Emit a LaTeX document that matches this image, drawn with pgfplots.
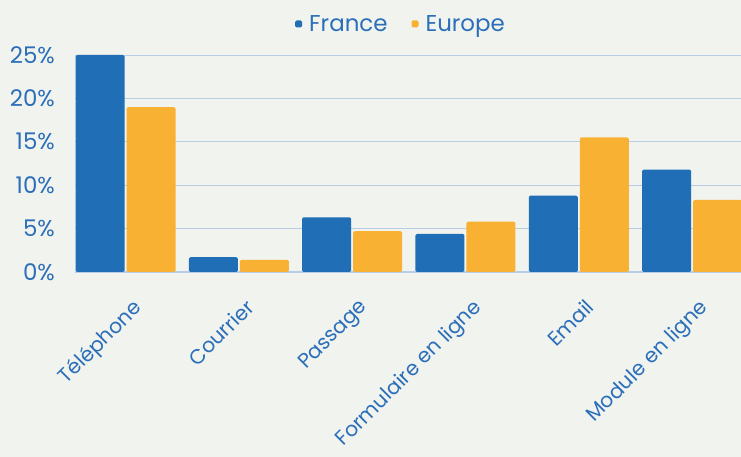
\documentclass[border=0pt]{standalone}
\usepackage{pgfplots}
\pgfplotsset{compat=1.18}
\usepackage{fontspec}
\setmainfont{Poppins}
\definecolor{bblue}{RGB}{31,110,182}
\definecolor{borange}{RGB}{248,177,51}
\definecolor{bg}{RGB}{241,243,238}
\definecolor{txt}{RGB}{43,110,185}
\definecolor{gridc}{RGB}{184,204,228}
\begin{document}
\begin{tikzpicture}[x=1bp,y=1bp]
\fill[bg] (0,0) rectangle (741,457);
\useasboundingbox (0,0) rectangle (741,457);
\begin{axis}[
  at={(75bp,185bp)}, anchor=south west, scale only axis,
  width=666bp, height=217bp,
  xmin=-0.446, xmax=5.432, ymin=0, ymax=25,
  ybar=2bp, bar width=49bp,
  axis x line*=bottom, axis y line*=left,
  x axis line style={draw=gridc, line width=1.3bp},
  y axis line style={draw=none},
  ytick={0,5,10,15,20,25},
  yticklabel={\pgfmathprintnumber[assume math mode=true]{\tick}\%},
  ymajorgrids, grid style={draw=gridc, line width=0.9bp},
  major tick length=0pt,
  xtick={0,1,2,3,4,5},
  xticklabels={Téléphone, Courrier, Passage, Formulaire en ligne, Email, Module en ligne},
  xticklabel style={rotate=45, anchor=north east, inner sep=0pt, xshift=-14bp, yshift=-22bp,
    font=\fontsize{20.5}{22}\selectfont, text=txt},
  yticklabel style={font=\fontsize{23}{25}\selectfont, text=txt, inner sep=0pt, xshift=-20bp},
  legend style={at={(0.4895,1.143)}, anchor=center, draw=none, fill=none,
    font=\fontsize{23}{25}\selectfont, text=txt, legend columns=2,
    /tikz/every even column/.append style={column sep=22bp}},
  legend image code/.code={\fill[#1] (0bp,-3.5bp) rectangle (7bp,3.5bp); \path (12bp,0bp);},
  every axis plot/.append style={draw=none, rounded corners=1.5bp},
]
\addplot[fill=bblue] coordinates {(0,25) (1,1.7) (2,6.3) (3,4.4) (4,8.8) (5,11.8)};
\addplot[fill=borange] coordinates {(0,19.0) (1,1.4) (2,4.7) (3,5.8) (4,15.5) (5,8.3)};
\legend{France, Europe}
\end{axis}
\end{tikzpicture}
\end{document}
